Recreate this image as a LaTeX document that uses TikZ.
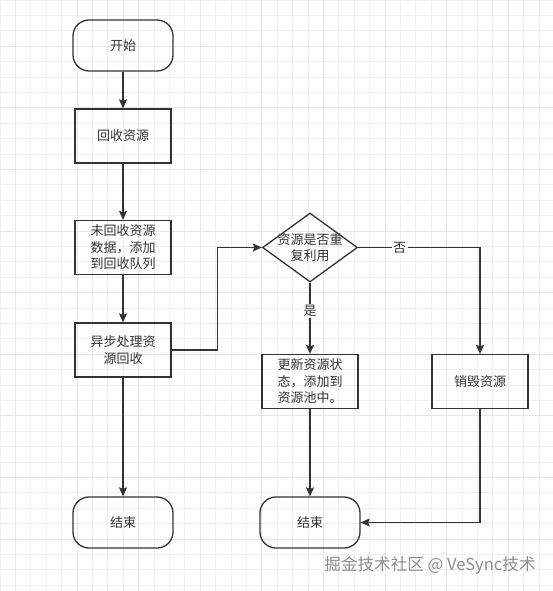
\documentclass[tikz,border=0pt]{standalone}
\usepackage{fontspec}
\setmainfont{Noto Sans CJK SC}
\usepackage{tikz}
\usetikzlibrary{positioning, shapes.geometric, arrows.meta}
\usepackage{xcolor}
\definecolor{linegray}{HTML}{333333}
\definecolor{gridminor}{HTML}{EFEFEF}
\definecolor{gridmajor}{HTML}{E6E6E6}
\definecolor{markgray}{HTML}{8E8E8E}

\begin{document}
\begin{tikzpicture}[x=1pt, y=-1pt, ->, >={Stealth[length=9pt,width=8pt,inset=1.5pt]}, line width=1.3pt, color=linegray, node distance=100pt, font=\fontsize{13pt}{16.5pt}\selectfont,
    terminal/.style={draw, rounded corners=16pt, minimum width=100pt, minimum height=51pt},
    box/.style={draw, rectangle, minimum width=96pt, minimum height=54pt, align=center},
    decision/.style={draw, diamond, minimum width=95pt, minimum height=69pt, inner sep=0pt},
    choice/.style={fill=white, inner sep=1.5pt}]
      % Background grid
      \useasboundingbox (0,0) rectangle (553,591);
      \fill[white] (0,0) rectangle (553,591);
      \draw[-, gridminor, line width=0.8pt, step=15.4pt] (0,0) grid (553,591);
      \draw[-, gridmajor, line width=1pt, step=61.6pt, shift={(15.4,46.2)}] (-15.4,-46.2) grid (537.6,544.8);

      % Left column
      \node[terminal] (start) at (123,45.5) {开始};
      \node[box] (recycle) [node distance=90.5pt, below of=start] {回收资源};
      \node[box] (pending) [node distance=111.5pt, below of=recycle] {未回收资源\\数据，添加\\到回收队列};
      \node[box] (async) [node distance=102.5pt, below of=pending] {异步处理资\\源回收};
      \node[terminal] (endleft) [node distance=172.5pt, below of=async] {结束};

      % Decision and its branches
      \node[decision, label={[align=center]center:资源是否重\\复利用}] (reuse) [node distance=187pt, right of=pending] {};
      \node[box] (update) [node distance=134pt, below of=reuse] {更新资源状\\态，添加到\\资源池中。};
      \node[box] (destroy) [node distance=170pt, right of=update] {销毁资源};
      \node[terminal] (endright) [node distance=141pt, below of=update] {结束};

      % Watermark
      \node[text=markgray, font=\fontsize{16.6pt}{16.6pt}\selectfont] (mark) at (430,565) {掘金技术社区 @ VeSync技术};

      % Main flow
      \path (start) edge (recycle)
            (recycle) edge (pending)
            (pending) edge (async)
            (async) edge (endleft)
            ;
      \draw (async.east) -- ++(46,0) |- (reuse.west);

      % Reuse or destroy
      \path (reuse) edge node[choice, pos=0.4] {是} (update);
      \draw (reuse.east) -| node[choice, pos=0.17] {否} (destroy.north);
      \path (update) edge (endright);
      \draw (destroy.south) |- (endright.east);
\end{tikzpicture}
\end{document}
